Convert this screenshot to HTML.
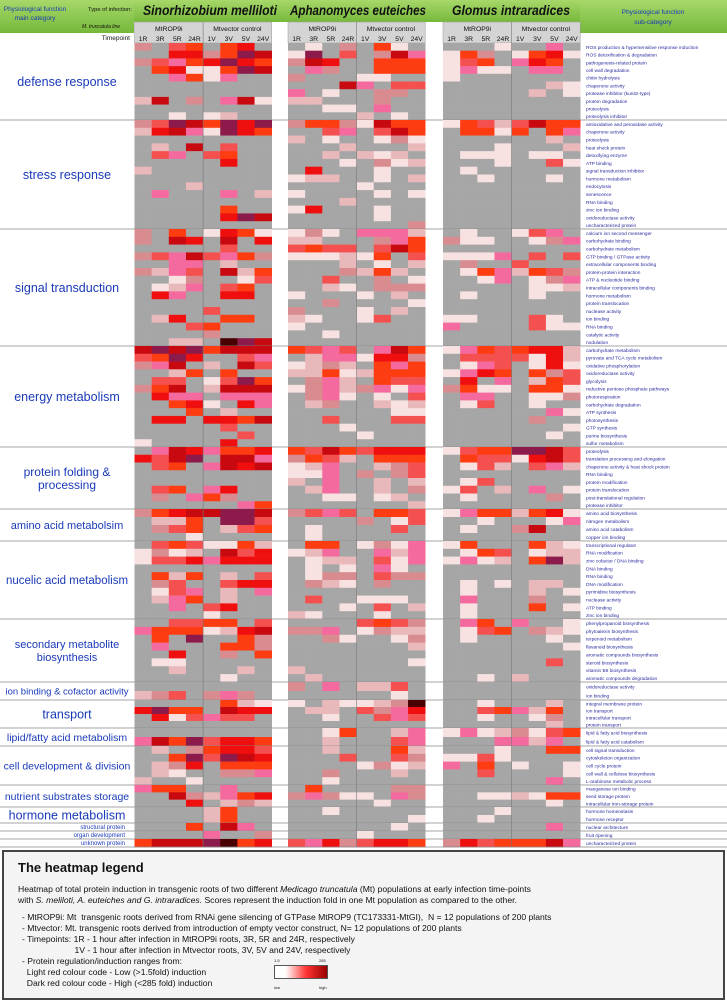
<!DOCTYPE html>
<html><head><meta charset="utf-8">
<style>
body{margin:0;background:#fff;font-family:"Liberation Sans",sans-serif;}
#wrap{position:relative;width:727px;height:1002px;overflow:hidden;background:#fff;}
svg{position:absolute;left:0;top:0;}
#legend{position:absolute;left:2px;top:850px;width:719px;height:146px;border:2px solid #444;background:#f4f4f4;font-size:8.6px;color:#111;}
#legend h3{margin:8px 0 0 14px;font-size:13px;}
#legend p{margin:0;line-height:11px;}
</style></head><body>
<div id="wrap">
<svg id="chart" width="727" height="850"></svg>
<div id="legend">
<h3>The heatmap legend</h3>
<p style="margin:9px 0 0 14px">Heatmap of total protein induction in transgenic roots of two different <i>Medicago truncatula</i> (Mt) populations at early infection time-points<br>with <i>S. meliloti, A. euteiches and G. intraradices.</i> Scores represent the induction fold in one Mt population as compared to the other.</p>
<p style="margin:6px 0 0 18px">- MtROP9i: Mt&nbsp; transgenic roots derived from RNAi gene silencing of GTPase MtROP9 (TC173331-MtGI),&nbsp; N = 12 populations of 200 plants<br>- Mtvector: Mt. transgenic roots derived from introduction of empty vector construct, N= 12 populations of 200 plants<br>- Timepoints: 1R - 1 hour after infection in MtROP9i roots, 3R, 5R and 24R, respectively<br>&nbsp;&nbsp;&nbsp;&nbsp;&nbsp;&nbsp;&nbsp;&nbsp;&nbsp;&nbsp;&nbsp;&nbsp;&nbsp;&nbsp;&nbsp;&nbsp;&nbsp;&nbsp;&nbsp;&nbsp;&nbsp; 1V - 1 hour after infection in Mtvector roots, 3V, 5V and 24V, respectively<br>- Protein regulation/induction ranges from:<br>&nbsp;&nbsp;Light red colour code - Low (&gt;1.5fold) induction<br>&nbsp;&nbsp;Dark red colour code - High (&lt;285 fold) induction</p>
<div style="position:absolute;left:270px;top:113px;width:52px;height:12px;border:1px solid #555;background:linear-gradient(90deg,#fff 0%,#fff 20%,#f33 60%,#900 100%)"></div>
<div style="position:absolute;left:270px;top:106px;font-size:4px">1.5</div>
<div style="position:absolute;left:315px;top:106px;font-size:4px">285</div>
<div style="position:absolute;left:270px;top:133px;font-size:4px">low</div>
<div style="position:absolute;left:315px;top:133px;font-size:4px">high</div>
</div>
</div>
<script>
const timepoints=["1R","3R","5R","24R","1V","3V","5V","24V"];
const infections=["Sinorhizobium melliloti","Aphanomyces euteiches","Glomus  intraradices"];
const categories=["defense response","stress response","signal transduction","energy metabolism","protein folding & processing","amino acid metabolsim","nucelic acid metabolism","secondary metabolite biosynthesis","ion binding & cofactor activity","transport","lipid/fatty acid metabolism","cell development & division","nutrient substrates storage","hormone metabolism","structural protein","organ development","unknown protein"];
const catBounds=[43,120,229,346,447,509,541,619,682,700,728,746,785,807,823,831,839,847];
const subLabels=[
["ROS production & hypersensitive response induction","ROS detoxification & degradation","pathogenesis-related protein","cell wall degradation","chitin hydrolysis","chaperone activity","protease inhibitor (kunitz-type)","protein degradation","proteolysis","proteolysis inhibitor"],
["antioxidative and peroxidase activity","chaperone activity","proteolysis","heat shock protein","detoxifying enzyme","ATP binding","signal transduction inhibitor","hormone metabolism","endocytosis","senescence","RNA binding","zinc ion binding","oxidoreductase activity","uncharacterized protein"],
["calcium ion second messenger","carbohydrate binding","carbohydrate metabolism","GTP binding / GTPase activity","extracellular components binding","protein-protein interaction","ATP & nucleotide binding","intracellular components binding","hormone metabolism","protein translocation","nuclease activity","ion binding","RNA binding","catalytic activity","nodulation"],
["carbohydrate metabolism","pyruvate and TCA cycle metabolism","oxidative phosphorylation","oxidoreductase activity","glycolysis","reductive pentose phosphate pathways","photorespiration","carbohydrate degradation","ATP synthesis","photosynthesis","GTP synthesis","purine biosynthesis","sulfur metabolism"],
["proteolysis","translation processing and elongation","chaperone activity & heat shock protein","RNA binding","protein modification","protein translocation","post-translational regulation","protease inhibitor"],
["amino acid biosynthesis","nitrogen metabolism","amino acid catabolism","copper ion binding"],
["transcriptional regulator","RNA modification","zinc cofactor / DNA binding","DNA binding","RNA binding","DNA modification","pyrimidine biosynthesis","nuclease activity","ATP binding","zinc ion binding"],
["phenylpropanoid biosynthesis","phytoalexin biosynthesis","terpenoid metabolism","flavanoid biosynthesis","aromatic compounds biosynthesis","steroid biosynthesis","vitamin B6 biosynthesis","aromatic compounds degradation"],
["oxidoreductase activity","ion binding"],
["integral membrane protein","ion transport","intracellular transport","protein transport"],
["lipid & fatty acid biosynthesis","lipid & fatty acid catabolism"],
["cell signal transduction","cytoskeleton organization","cell cycle protein","cell wall & cellulose biosynthesis","L-arabinose metabolic process"],
["manganese ion binding","seed storage protein","intracellular iron-storage protein"],
["hormone homeostasis","hormone receptor"],["nuclear architecture"],["fruit ripening"],["uncharacterized protein"]];
const sinoRows=["c.de.ef.","..ffcehg","cdpefhfe",".efaaehg","..peap..","........","........","bg.c.pga","........","..a.ab..",
"cdhgehfh","bfgpahfe","........",".b.g.d..",".dp.de..",".....f..","b.......","........","...b....",".p...p.b","........",".....e..",".....fhg","........",
"c.e.afea","c.gf.g.f",".....d..","cdpgdpec","..pp.b..","cbpd.gbe","..ac..ad",".abp.de.",".fp..ff.","........","....d...",".bf..ee.","...de...","....c...","..bb.khg",
"ghgheggg","dehf..dp","cpg.b.gd","..be.e..",".dd.adhe","ceg.bggg",".fpp.ppp","..efa.fp","...e.b..",".ff.ffeg",".....d..","......d.","a....f..",
".pgfpeef","fdgh.ggp",".de.pgfg","........","........",".de.pf..",".c.pec..","......pe",
"cefgghhg",".bbe.hhd",".cde.bde","...a....",
".dedaaeb","acab.gdf","addfpfff","........",".ebe.b.d",".cd..dff",".adp.b.p",".bpe.b..","..p.df..","....a...",
"..ddee.d","peeeabfg",".e.h..ec",".p...eec","..f..c.e",".aa.....","..b...b.",".....a..",
"........","bcd.cpc.",
".....eba","fhee.gff",".fadpdd.","........",
"........","pgehdffe",
".b.ceffd","..ehdhgf",".bcf.eee",".ba..ccp","b..a....",
"pee..p..","..gcbpef","...f.bcb",
"....be..","....be..",
"...e.gp.","....p..c","eggghkef"];
const aphaRows=[".a.c.ea.","ah.d.cgp","cgf..eee",".pc..eee","c...aa..","...gp.dd","p.a..cc.","bb...c..","..aa.p..","....b.a.",
"ceecagee","..dp.dge","b.a..aca","...b...b","..b.bab.","...a.cab",".f...a..","abb..a.b","....a...","a....a.a","...b....","af...a..",".....a..",".......c",
"aca.pppb","bb...cpe","dedd.dge","aaabae.d","...b.a.b","...cbeb.","..d..c.a","..ba.ccc","a...a.b.","..c....a","c...a.b.","ba..ad..","a.......","..a.....","........",
"edpd.pge",".bppaffc","abcb.epe","bbeabeee",".cpb.edd","acpbcpap",".cpa.a.d",".bc..bab","......aa","..d...dd","...a....","....a...","........",
"edgedfff","cedb.eee","abp..bcd","aap.c.cd","b.p..b.b",".bp..b.c","..aa.ab.",".......b",
"cdpd.eed","....c.ad",".a....d.",".a......",
".ee.acap","abp..pbp",".abb.dap",".a.a.pa.",".acc.dcc",".cba.c..","........",".d..aaa.","...a.d.b","ba...a..",
"....dedc","ccp.acbb","..ca..ac",".......b","........",".......a","b.......",".b......",
"c.p.bbd.","......a.",
"a.baabck",".bb.dcpf","..a..dpd","........",
"..ae..bp","..b...dp",
"..b...eb","...d..dc","....acab","..c...b.","..a.....",
".e....cc","cpcaa.pc",".....a..",
"..a.....",".......a",
"......a.","....a...","dpfcdffe"];
const glomRows=["...a..p.","aec.aefa","ade.pfe.","apaa.pp.","a.......","......ba",".....b.a","........","........","........",
"aedbdgee",".eeae.ep","......b.","...a...b",".aaa.aa.","...a..da",".a......","..a...a.","........","........","........","........","........","........",
".a..adp.","caa..acp","........","aaap.d.d",".c..d...",".aepbedc","..ap.acp",".....aab",".a...a..","........","........","aa...da.","p....daa","........","........",
"apedeffb",".ddddafb",".apd.afa","apfe.ecd",".f.p.bed","ceaa.eea",".pp..aac",".ad..a..","......pa",".....c..",".......a","......a.","........",
"adeehhgd",".eddafgd",".adb.dpb","........",".ad.....","ad.b.p.a",".a....c.","........",
"apeebefa","..a...ap",".a..cg..","........",
"ae...eba",".aed.abb","apab.ehb","........","........",".a.a.bb.",".a...b.a",".p...c..",".a...e.a",".a......",
".pe.p..a",".ade.cba",".a....a.",".......a","........","......d.","........","..a.b...",
"........","........",
"..a...b.","..depbe.","..a..ac.","......b.",
"apabcade","...ppbp.",
"...a..ee","aada....","p.e.a..a","..d....a","......p.",
"........","..aabaee","......a.",
"...a....","..a.....",
"......p.","........","cfdeeegp"];
const colorOf={'.':'#a6a6a6',a:'#f7e1e1',b:'#e9b8ba',c:'#d98c90',p:'#f56a9e',d:'#f55050',e:'#fd3c12',f:'#f00f0f',g:'#c80a10',h:'#8c1a4a',k:'#4a0000'};
const catFont=[12.5,12.5,12.5,12.5,12,11,11.5,11,9.5,12.5,10.5,10.5,10.5,12.5,6,6,6];

const NS="http://www.w3.org/2000/svg";
const svg=document.getElementById('chart');
function mk(tag,attrs,parent){const e=document.createElementNS(NS,tag);for(const k in attrs)e.setAttribute(k,attrs[k]);(parent||svg).appendChild(e);return e;}
function txt(x,y,s,attrs){const t=mk('text',Object.assign({x:x,y:y,'font-family':'Liberation Sans, sans-serif'},attrs));t.textContent=s;return t;}

const blockX=[134.5,288,443];
const cellW=17.15;
const xScale=(b,c)=>blockX[b]+c*cellW;
const titleX=[143,290,452];
const titleW=[134,136,118];

const g0=mk('linearGradient',{id:'gr',x1:0,y1:0,x2:0,y2:1},mk('defs',{}));
mk('stop',{offset:0,'stop-color':'#a6d86a'},g0);mk('stop',{offset:1,'stop-color':'#76b83a'},g0);
let hb=mk('rect',{x:0,y:0,width:727,height:22,fill:'url(#gr)'});

let lh=mk('rect',{x:0,y:0,width:134,height:33,fill:'url(#gr)'});

let rh=mk('rect',{x:580,y:0,width:147,height:33,fill:'url(#gr)'});

let t;
t=txt(35,11,'Physiological function',{'font-size':6.5,fill:'#1a3ab8','text-anchor':'middle'});
t=txt(35,20,'main category',{'font-size':6.5,fill:'#1a3ab8','text-anchor':'middle'});
t=txt(88,11,'Type of infection:',{'font-size':5.8,fill:'#111'});
t=txt(82,28,'M. truncatula line',{'font-size':5,fill:'#111','font-style':'italic'});
t=txt(130,40,'Timepoint',{'font-size':6.5,fill:'#111','text-anchor':'end'});
t=txt(653,14,'Physiological function',{'font-size':6.5,fill:'#1a3ab8','text-anchor':'middle'});
t=txt(653,24,'sub-category',{'font-size':6.5,fill:'#1a3ab8','text-anchor':'middle'});

const allRows=[sinoRows,aphaRows,glomRows];
for(let b=0;b<3;b++){
  const x0=xScale(b,0),w=cellW*8;
  let r=mk('rect',{x:x0,y:22,width:w,height:21,fill:'#d4d4d4',stroke:'#999','stroke-width':0.5});
  
  t=txt(titleX[b],15,infections[b],{'font-size':13.5,'font-weight':'bold','font-style':'italic',fill:'#111',textLength:titleW[b],lengthAdjust:'spacingAndGlyphs'});
  
  t=txt(x0+w/4,31,'MtROP9i',{'font-size':6.8,fill:'#111','text-anchor':'middle'});
  
  t=txt(x0+3*w/4,31,'Mtvector control',{'font-size':6.8,fill:'#111','text-anchor':'middle'});
  
  timepoints.forEach((tp,c)=>{
    t=txt(xScale(b,c)+cellW/2,41,tp,{'font-size':6.8,fill:'#111','text-anchor':'middle'});
    
  });
}
let rowIdx=0;
categories.forEach((cat,ci)=>{
  const y0=catBounds[ci],y1=catBounds[ci+1],subs=subLabels[ci],n=subs.length,rh=(y1-y0)/n;
  const fs=catFont[ci];
  const lbl=txt(ci>=14?125:67,(y0+y1)/2+fs*0.36,cat,{'font-size':fs,fill:'#1a3ab8','text-anchor':ci>=14?'end':'middle'});
  if(cat==='protein folding & processing'||cat==='secondary metabolite biosynthesis'){
    lbl.textContent='';
    const parts=cat==='protein folding & processing'?['protein folding &','processing']:['secondary metabolite','biosynthesis'];
    parts.forEach((p,i)=>{const ts=mk('tspan',{x:67,dy:i?13:-6.5},lbl);ts.textContent=p;});
  }
  
  for(let s=0;s<n;s++){
    const y=y0+s*rh;
    for(let b=0;b<3;b++){
      const row=(allRows[b][rowIdx]||'........').padEnd(8,'.');
      for(let c=0;c<8;c++){
        const cell=mk('rect',{x:xScale(b,c),y:y,width:cellW+0.3,height:rh+0.3,fill:colorOf[row[c]]||'#a6a6a6'});
        
        
      }
    }
    const sl=txt(586,y+rh/2+2,subs[s],{'font-size':4.8,fill:'#2a2aa0'});
    
    
    rowIdx++;
  }
  const ln=mk('line',{x1:0,x2:727,y1:y1,y2:y1,stroke:'#888','stroke-width':0.8});
  
  
});
for(let b=0;b<3;b++){
  const mid=mk('line',{x1:xScale(b,4),x2:xScale(b,4),y1:22,y2:847,stroke:'#777','stroke-width':0.6});
  
  
}
</script>
</body></html>
